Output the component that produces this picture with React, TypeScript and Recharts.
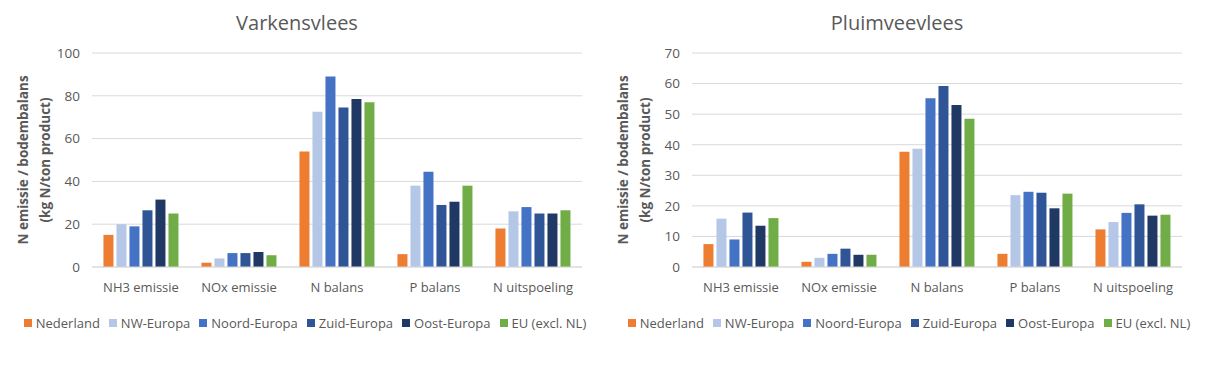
import React from 'react';
import { BarChart, Bar, XAxis, YAxis, CartesianGrid } from 'recharts';

const categories = ['NH3 emissie', 'NOx emissie', 'N balans', 'P balans', 'N uitspoeling'];
const regions = ['Nederland', 'NW-Europa', 'Noord-Europa', 'Zuid-Europa', 'Oost-Europa', 'EU (excl. NL)'];
const COLORS = ['#ED7D31', '#B4C7E7', '#4472C4', '#2F5597', '#203864', '#70AD47'];

// one array per region, values per category
const varkensNederland = [15, 2, 54, 6, 18];
const varkensNW = [20, 4, 72.5, 38, 26];
const varkensNoord = [19, 6.5, 89, 44.5, 28];
const varkensZuid = [26.5, 6.5, 74.5, 29, 25];
const varkensOost = [31.5, 7, 78.5, 30.5, 25];
const varkensEU = [25, 5.5, 77, 38, 26.5];

const pluimNederland = [7.5, 1.7, 37.7, 4.3, 12.3];
const pluimNW = [15.8, 3, 38.7, 23.5, 14.7];
const pluimNoord = [9, 4.3, 55.2, 24.6, 17.7];
const pluimZuid = [17.8, 6, 59.2, 24.3, 20.5];
const pluimOost = [13.5, 4, 53, 19.2, 16.8];
const pluimEU = [16, 4, 48.5, 24, 17.1];

const varkensTicks = [0, 20, 40, 60, 80, 100];
const pluimTicks = [0, 10, 20, 30, 40, 50, 60, 70];

const FONT = '"Open Sans", "Noto Sans", sans-serif';
const GREY = '#595959';

const build = (series: number[][]) =>
  categories.map((name, i) => {
    const row: Record<string, string | number> = { name };
    regions.forEach((r, j) => {
      row[r] = series[j][i];
    });
    return row;
  });

const varkensData = build([varkensNederland, varkensNW, varkensNoord, varkensZuid, varkensOost, varkensEU]);
const pluimData = build([pluimNederland, pluimNW, pluimNoord, pluimZuid, pluimOost, pluimEU]);

const YLabel = ({ viewBox }: any) => {
  const cy = viewBox.y + viewBox.height / 2;
  const st = { fontFamily: FONT, fontSize: 13.5, fontWeight: 700 };
  return (
    <g>
      <text x={28} y={cy} transform={`rotate(-90, 28, ${cy})`} textAnchor="middle" fill={GREY} style={st}>
        N emissie / bodembalans
      </text>
      <text x={50} y={cy} transform={`rotate(-90, 50, ${cy})`} textAnchor="middle" fill={GREY} style={st}>
        (kg N/ton product)
      </text>
    </g>
  );
};

const Legend = ({ left, width }: { left: number; width: number }) => (
  <div style={{ position: 'absolute', left, width, top: 314, display: 'flex', justifyContent: 'center', gap: 9, fontFamily: FONT, fontSize: 13, color: GREY, whiteSpace: 'nowrap' }}>
    {regions.map((r, i) => (
      <div key={r} style={{ display: 'flex', alignItems: 'center', gap: 4 }}>
        <span style={{ width: 8, height: 8, background: COLORS[i], display: 'inline-block' }} />
        <span>{r}</span>
      </div>
    ))}
  </div>
);

const Panel = ({ title, data, ticks, max, left, width }: any) => (
  <div style={{ position: 'absolute', left, top: 0, width, height: 365 }}>
    <div style={{ position: 'absolute', left: 197, width: 200, top: 9, textAlign: 'center', fontFamily: FONT, fontSize: 20, color: GREY }}>
      {title}
    </div>
    <BarChart width={width} height={300} data={data}
      margin={{ top: 53, right: width - 582, bottom: 3, left: 0 }}
      barCategoryGap="11.7%" barGap={3}>
      <CartesianGrid vertical={false} stroke="#D9D9D9" />
      <XAxis dataKey="name" axisLine={{ stroke: '#D9D9D9' }} tickLine={false} height={30}
        tick={{ fill: GREY, fontSize: 13, fontFamily: FONT }} interval={0} tickMargin={10} />
      <YAxis width={92} domain={[0, max]} ticks={ticks} axisLine={false} tickLine={false}
        tick={{ fill: GREY, fontSize: 13.5, fontFamily: FONT }} tickMargin={6} interval={0}
        label={<YLabel />} />
      {regions.map((r, i) => (
        <Bar key={r} dataKey={r} fill={COLORS[i]} isAnimationActive={false} />
      ))}
    </BarChart>
  </div>
);

export default function App() {
  return (
    <div style={{ position: 'absolute', left: 0, top: 0, width: 1206, height: 365, background: '#fff' }}>
      <Panel title="Varkensvlees" data={varkensData} ticks={varkensTicks} max={100} left={0} width={600} />
      <Panel title="Pluimveevlees" data={pluimData} ticks={pluimTicks} max={70} left={600} width={600} />
      <Legend left={20} width={570} />
      <Legend left={626} width={566} />
    </div>
  );
}
